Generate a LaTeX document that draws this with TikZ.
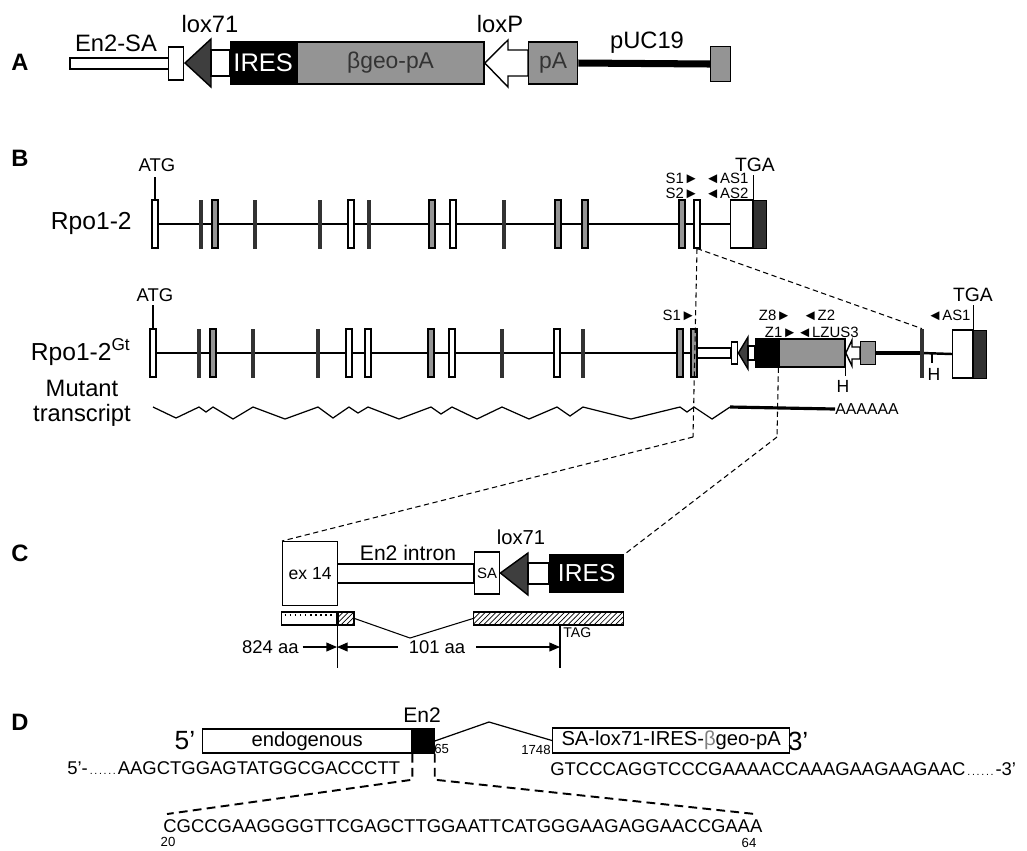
\documentclass[tikz,border=0pt]{standalone}
\usepackage{fontspec}
\setmainfont{Liberation Sans}
\usepackage{xcolor}
\usetikzlibrary{arrows.meta, positioning, patterns, backgrounds}
\definecolor{geogray}{RGB}{148,148,148}
\definecolor{loxdark}{RGB}{62,62,62}
\definecolor{exondark}{RGB}{50,50,50}
\newcommand{\fsz}[1]{\fontsize{#1}{#1}\selectfont}
\tikzset{
  panel/.style={inner sep=0pt, font=\fsz{13.5pt}\bfseries},
  lbl/.style={inner sep=0pt, font=\fsz{11.5pt}},
  veclbl/.style={inner sep=0pt, font=\fsz{13.5pt}},
  genelbl/.style={inner sep=0pt, font=\fsz{14pt}},
  sitelbl/.style={inner sep=0pt, font=\fsz{10.5pt}},
  primer/.style={inner sep=0pt, font=\fsz{8.5pt}},
  numlbl/.style={inner sep=0pt, font=\fsz{7.5pt}},
  seqlbl/.style={inner sep=0pt, font=\fsz{10.5pt}, anchor=west},
  bone/.style={line width=1.4pt},
  vecline/.style={draw, line width=0.8pt, fill=white},
  loxtri/.style={draw, line width=0.8pt, fill=loxdark},
  boxwhite/.style={draw, line width=0.8pt, fill=white, inner sep=0pt},
  boxblack/.style={draw, line width=0.8pt, fill=black, text=white, inner sep=0pt},
  boxgray/.style={draw, line width=0.8pt, fill=geogray, text=black!80, inner sep=0pt},
  exonw/.style={draw, line width=0.6pt, fill=white, minimum width=0.12cm, minimum height=0.96cm, inner sep=0pt},
  exong/.style={exonw, fill=geogray},
  exond/.style={draw=exondark, fill=exondark, minimum width=0.07cm, minimum height=0.96cm, inner sep=0pt},
  zoomdash/.style={densely dashed, line width=0.6pt},
  bigdash/.style={dash pattern=on 5pt off 3pt, line width=1.1pt},
  dimarrow/.style={-{Triangle[length=6pt,width=5pt]}, line width=0.7pt},
  hatchbar/.style={draw, line width=0.7pt, pattern=north east lines, minimum height=0.26cm, inner sep=0pt}
}

\begin{document}
\begin{tikzpicture}[x=0.02cm, y=-0.02cm]
  \useasboundingbox (0,0) rectangle (1027,850);

  % --- A : trap vector ---
  \node[panel] (lblA) at (20,62) {A};
  \draw[vecline] (70,58) rectangle (169,69);
  \node[boxwhite, minimum width=0.3cm, minimum height=0.66cm, anchor=west] (saA) at (168,63.5) {};
  \node[veclbl] (en2saA) at (116,43) {En2-SA};
  \draw[loxtri] (185,63) -- (211,39) -- (211,87) -- cycle;
  \node[veclbl] (lox71A) at (210,24) {lox71};
  \draw[vecline] (211,50) rectangle (230,76);
  \node[boxblack, minimum width=1.3cm, minimum height=0.84cm, anchor=west, font=\fsz{14.5pt}] (iresA) at (230,63) {IRES};
  \node[boxgray, minimum width=3.74cm, minimum height=0.84cm, anchor=west, font=\fsz{13pt}] (geoA) at (iresA.east) {βgeo-pA};
  \draw[vecline] (geoA.east) -- (508,40) -- (508,50) -- (528,50) -- (528,76) -- (508,76) -- (508,87) -- cycle;
  \node[veclbl] (loxPA) at (500,24) {loxP};
  \node[boxgray, minimum width=0.98cm, minimum height=0.84cm, anchor=west, font=\fsz{13pt}] (pAA) at (528,63) {pA};
  \node[boxgray, minimum width=0.4cm, minimum height=0.7cm, anchor=west] (pucA) at (710,64) {};
  \draw[line width=4pt] (pAA.east) -- (pucA.west);
  \node[veclbl] (pucL) at (647,43) {pUC19};

  % --- B : wild-type allele ---
  \node[panel] (lblB) at (20,158) {B};
  \node[genelbl, anchor=east] (rpoT) at (132,223) {Rpo1-2};
  \foreach \ex/\ty [count=\i] in {155/w,201/d,215/g,255/d,320/d,351/w,369/d,432/g,453/w,504/d,558/g,585/g,682/g,697/w}
    \node[exon\ty] (t\i) at (\ex,224) {};
  \node[exonw, minimum width=0.44cm, anchor=west] (tUtr) at (730,224) {};
  \node[exond, draw=black, minimum width=0.26cm, anchor=west] (tStop) at (tUtr.east) {};
  \begin{scope}[on background layer]
    \draw[bone] (t1.center) -- (tUtr.west);
  \end{scope}
  \node[sitelbl] (atgT) at (157,165) {ATG};
  \draw[line width=0.6pt] (t1.north) -- ++(0,-22);
  \node[sitelbl, font=\fsz{11pt}] (tgaT) at (755,165) {TGA};
  \draw[line width=0.6pt] (tStop.north west) -- ++(0,-25);
  \node[primer, anchor=east] (s1T) at (699,178) {S1►};
  \node[primer, anchor=west] (as1T) at (705,178) {◄AS1};
  \node[primer, anchor=east] (s2T) at (699,193) {S2►};
  \node[primer, anchor=west] (as2T) at (705,193) {◄AS2};

  % --- B : gene-trap allele ---
  \node[genelbl, anchor=east] (rpoM) at (131,352) {Rpo1-2\textsuperscript{Gt}};
  \foreach \ex/\ty [count=\i] in {153/w,199/d,213/g,253/d,318/d,349/w,368/w,431/g,452/w,502/d,557/w,583/d,680/g,694/g}
    \node[exon\ty] (m\i) at (\ex,353) {};
  \draw[vecline] (697,348) rectangle (731,358);
  \node[boxwhite, minimum width=0.12cm, minimum height=0.44cm, anchor=west] (saM) at (731,353) {};
  \draw[loxtri] (saM.east) -- (748,337) -- (748,369) -- cycle;
  \draw[vecline] (748,346) rectangle (755,360);
  \node[boxblack, minimum width=0.44cm, minimum height=0.56cm, anchor=west] (iresM) at (755,353) {};
  \node[boxgray, minimum width=1.32cm, minimum height=0.56cm, anchor=west] (geoM) at (iresM.east) {};
  \draw[vecline] (geoM.east) -- (852,340) -- (852,347) -- (860,347) -- (860,359) -- (852,359) -- (852,366) -- cycle;
  \node[boxgray, minimum width=0.3cm, minimum height=0.46cm, anchor=west] (pAM) at (860,353) {};
  \node[exond] (m15) at (922,353) {};
  \node[exonw, minimum width=0.4cm, anchor=west] (mUtr) at (952,354) {};
  \node[exond, draw=black, minimum width=0.26cm, anchor=west] (mStop) at (mUtr.east) {};
  \begin{scope}[on background layer]
    \draw[bone] (m1.center) -- (m14.center);
    \draw[line width=2.8pt] (pAM.east) -- (m15.center);
    \draw[bone] (m15.center) -- (mUtr.west);
  \end{scope}
  \node[sitelbl] (atgM) at (155,295) {ATG};
  \draw[line width=0.6pt] (m1.north) -- ++(0,-23);
  \node[sitelbl, font=\fsz{11pt}] (tgaM) at (973,295) {TGA};
  \draw[line width=0.6pt] (mStop.north west) -- ++(0,-25);
  \draw[line width=0.6pt] (geoM.south east) -- ++(0,8);
  \node[sitelbl, font=\fsz{10pt}] (h1) at (843,386) {H};
  \draw[line width=0.6pt] (932,353) -- (932,363);
  \node[sitelbl, font=\fsz{10pt}] (h2) at (934,374) {H};
  \node[primer, anchor=east] (s1M) at (696,315) {S1►};
  \node[primer] (z8M) at (775,315) {Z8►};
  \node[primer] (z2M) at (819,315) {◄Z2};
  \node[primer] (z1M) at (781,332) {Z1►};
  \node[primer] (lzM) at (828,332) {◄LZUS3};
  \node[primer] (as1M) at (949,315) {◄AS1};

  % --- mutant transcript ---
  \node[genelbl, align=center, font=\fontsize{13.5pt}{14pt}\selectfont] (mutT) at (82,403) {Mutant\\transcript};
  \coordinate (tx0) at (730,407);
  \draw[line width=0.7pt] (153,407) -- (176,418) -- (199,407) -- (206,412) -- (213,407) -- (233,419)
    -- (253,407) -- (285,419) -- (318,407) -- (333,418) -- (349,407) -- (358,413) -- (368,407)
    -- (399,419) -- (431,407) -- (441,414) -- (452,407) -- (477,419) -- (502,407) -- (529,419)
    -- (557,407) -- (570,416) -- (583,407) -- (631,419) -- (680,407) -- (687,412) -- (694,407)
    -- (712,419) -- (tx0);
  \node[primer, font=\fsz{9pt}, anchor=west] (polyA) at (835,409) {AAAAAA};
  \draw[line width=1.8pt] (tx0) -- (polyA.west);

  % --- C : insertion site ---
  \node[panel] (lblC) at (20,553) {C};
  \draw[vecline] (337,564) rectangle (474,583);
  \node[boxwhite, minimum width=1.1cm, minimum height=1.28cm, anchor=north west, font=\fsz{10pt}] (exC) at (282,541) {ex 14};
  \node[lbl, font=\fsz{12pt}] (intronC) at (408,553) {En2 intron};
  \node[boxwhite, minimum width=0.5cm, minimum height=0.84cm, anchor=west, font=\fsz{8.5pt}] (saC) at (474,573) {SA};
  \draw[loxtri] (saC.east) -- (528,553) -- (528,595) -- cycle;
  \draw[vecline] (528,563) rectangle (549,584);
  \node[boxblack, minimum width=1.48cm, minimum height=0.74cm, anchor=west, font=\fsz{14pt}] (iresC) at (549,573.5) {IRES};
  \node[lbl] (lox71C) at (521,537) {lox71};
  \node[boxwhite, minimum width=1.1cm, minimum height=0.26cm, anchor=west] (barLd) at (281,618.5) {};
  \draw[dotted, line width=0.9pt] ([xshift=2pt,yshift=-2pt]barLd.north west) -- ([xshift=-2pt,yshift=-2pt]barLd.north east);
  \node[hatchbar, minimum width=0.32cm, anchor=west] (barLh) at (barLd.east) {};
  \node[hatchbar, minimum width=3cm, anchor=west] (barR) at (473,618.5) {};
  \coordinate (vtip) at (410,638);
  \draw[line width=0.6pt] (barLh.east) -- (vtip) -- (barR.west);
  \coordinate (ex14end) at (337,647);
  \coordinate (tagend) at (560,647);
  \draw[line width=0.7pt] (barLh.south west) -- ++(0,42);
  \draw[line width=0.7pt] (560,625) -- (560,668);
  \node[primer, font=\fsz{8pt}, anchor=west] (tagC) at (563,633) {TAG};
  \node[sitelbl, anchor=east] (aa824) at (299,647) {824 aa};
  \node[sitelbl] (aa101) at (437,647) {101 aa};
  \draw[dimarrow, shorten <=2pt] (aa824) -- (ex14end);
  \draw[dimarrow, shorten <=6pt] (aa101) -- (ex14end);
  \draw[dimarrow, shorten <=6pt] (aa101) -- (tagend);

  % --- zoom lines B -> C ---
  \coordinate (cL) at (693,437);
  \coordinate (cR) at (777,437);
  \draw[zoomdash] (t14.south) -- (m15.north);
  \draw[zoomdash] (t14.south) -- (cL);
  \draw[zoomdash] (geoM.south west) -- (cR);
  \draw[zoomdash] (cL) -- (exC.north west);
  \draw[zoomdash] (cR) -- (iresC.north east);

  % --- D : fusion sequence ---
  \node[panel] (lblD) at (20,722) {D};
  \node[genelbl, font=\fsz{15pt}] (fiveD) at (185,741) {5'};
  \node[boxwhite, minimum width=4.18cm, minimum height=0.48cm, anchor=west, font=\fsz{11.5pt}] (endoD) at (202,741) {endogenous};
  \node[boxblack, minimum width=0.42cm, minimum height=0.48cm, anchor=west] (en2D) at (endoD.east) {};
  \node[lbl, font=\fsz{12pt}] (en2L) at (422,715) {En2};
  \node[numlbl, anchor=west] (n65) at (434,749) {65};
  \node[boxwhite, minimum width=4.74cm, minimum height=0.5cm, anchor=west, font=\fsz{11.5pt}] (trapD) at (552,740.5) {SA-lox71-IRES-{\color{gray}β}geo-pA};
  \node[genelbl, font=\fsz{15pt}] (threeD) at (798,741) {3'};
  \node[numlbl, anchor=east] (n1748) at (551,750) {1748};
  \coordinate (spl) at (489,722);
  \draw[line width=0.7pt] (en2D.east) -- (spl) -- (trapD.west);
  \node[seqlbl] (seqL) at (67,768) {5'-\makebox[0.6cm]{\fsz{6pt}\dotfill}AAGCTGGAGTATGGCGACCCTT};
  \node[seqlbl] (seqR) at (550,769) {GTCCCAGGTCCCGAAAACCAAAGAAGAAGAAC\makebox[0.6cm]{\fsz{6pt}\dotfill}-3'};
  \node[seqlbl] (seqB) at (163,826) {CGCCGAAGGGGTTCGAGCTTGGAATTCATGGGAAGAGGAACCGAAA};
  \node[numlbl] (n20) at (168,842) {20};
  \node[numlbl] (n64) at (749,843) {64};
  \coordinate (dL) at (167,814);
  \coordinate (dR) at (755,814);
  \draw[bigdash] (en2D.south west) -- ++(0,26) -- (dL);
  \draw[bigdash] (en2D.south east) -- ++(0,26) -- (dR);

\end{tikzpicture}
\end{document}
